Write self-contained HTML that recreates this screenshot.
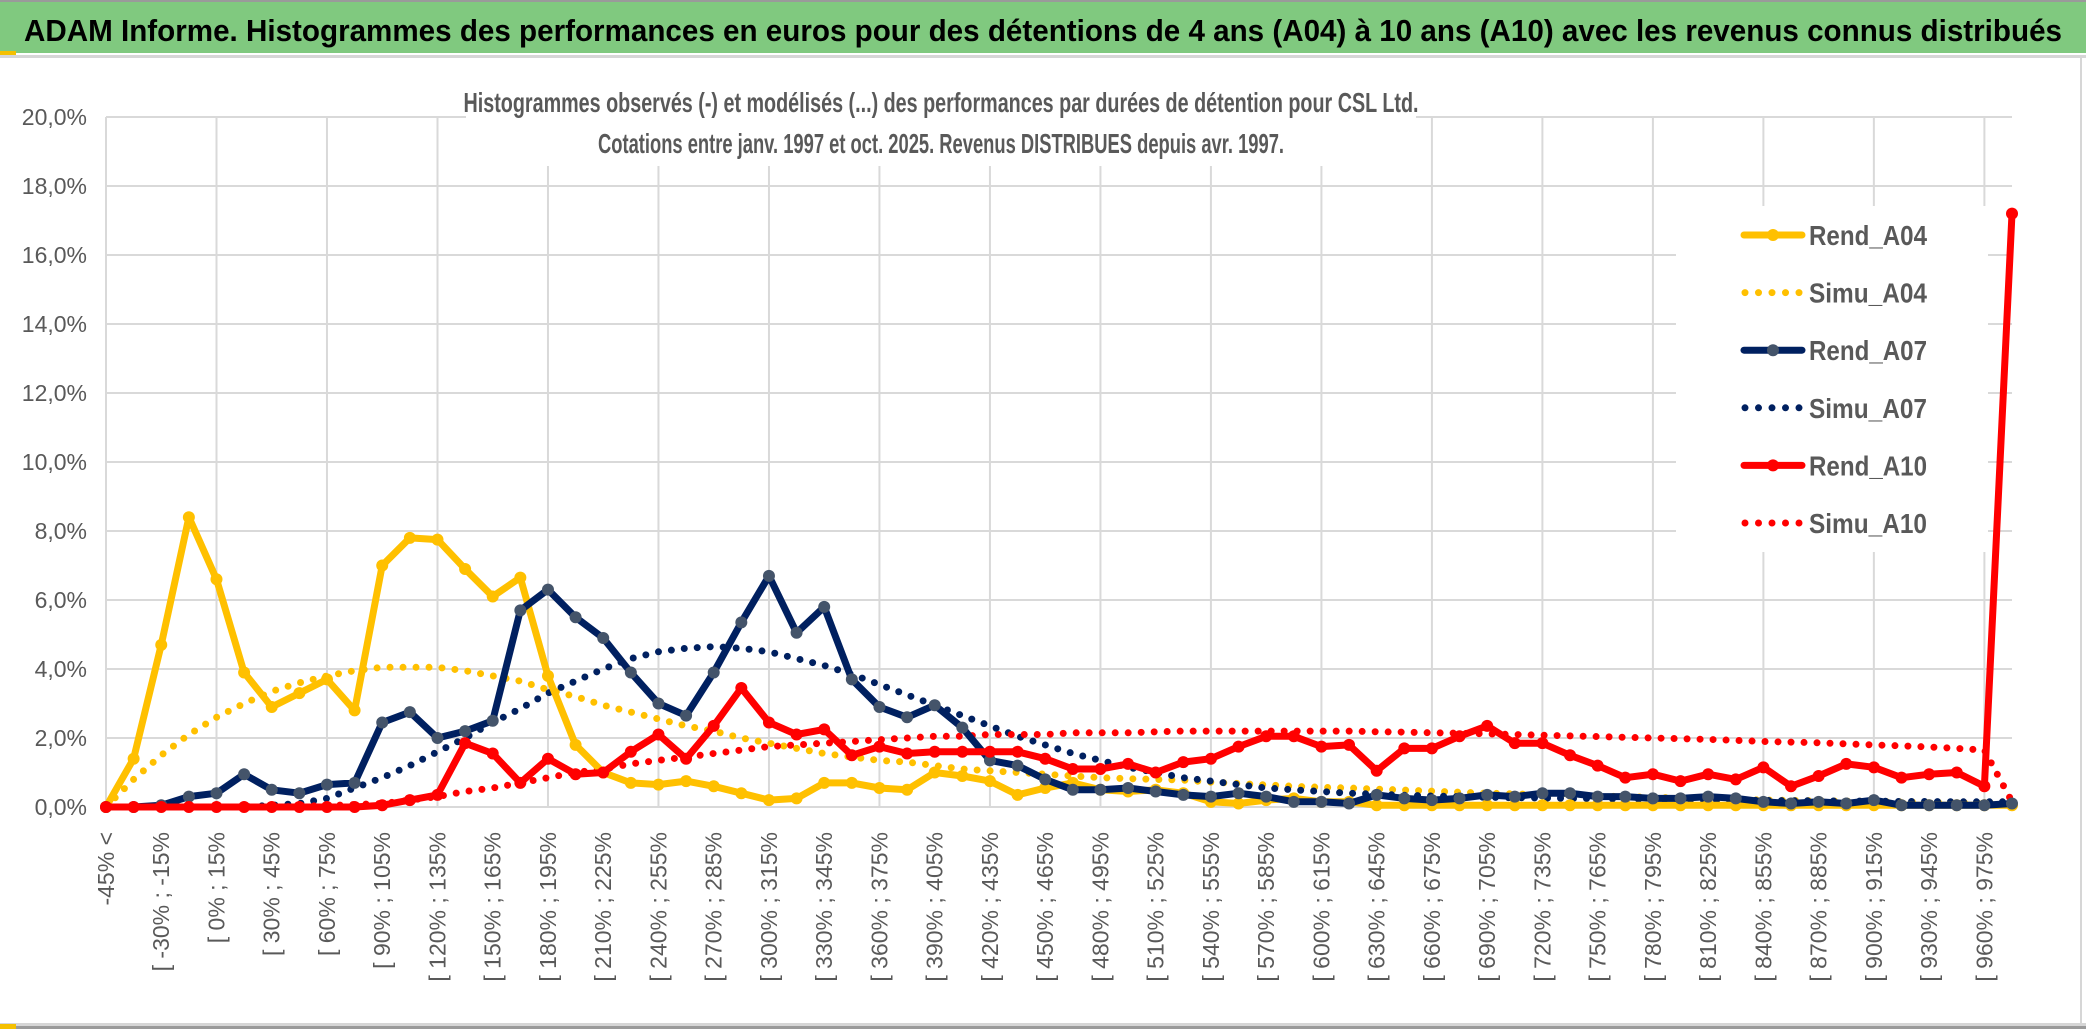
<!DOCTYPE html>
<html><head><meta charset="utf-8"><style>
html,body{margin:0;padding:0;background:#fff;}
svg{display:block;font-family:"Liberation Sans",sans-serif;}
</style></head><body>
<svg id="chart" width="2086" height="1033" viewBox="0 0 2086 1033" xmlns="http://www.w3.org/2000/svg">
<rect x="0" y="0" width="2086" height="1033" fill="#fff"/>
<rect x="0" y="2" width="2086" height="51" fill="#80c97f"/>
<rect x="0" y="0" width="2086" height="2" fill="#9a9a9a"/>
<rect x="0" y="55" width="2086" height="3" fill="#d6d6d6"/>
<rect x="0" y="51" width="16" height="4" fill="#f5c000"/>
<rect x="0" y="1023" width="2086" height="3" fill="#d6d6d6"/>
<rect x="0" y="1026" width="2086" height="3" fill="#9a9a9a"/>
<rect x="0" y="1024" width="16" height="5" fill="#f5c000"/>
<rect x="2080" y="58" width="2" height="965" fill="#d6d6d6"/>
<text x="24" y="41" font-size="31" font-weight="bold" fill="#000" textLength="2038" lengthAdjust="spacingAndGlyphs">ADAM Informe. Histogrammes des performances en euros pour des détentions de 4 ans (A04) à 10 ans (A10) avec les revenus connus distribués</text>
<g id="grid"></g>
<rect x="466" y="70" width="950" height="96" fill="#fff"/>
<rect x="1676" y="206" width="312" height="346" fill="#fff"/>
<text x="941" y="112" font-size="28" font-weight="bold" fill="#595959" text-anchor="middle" textLength="955" lengthAdjust="spacingAndGlyphs">Histogrammes observés (-) et modélisés (...) des performances par durées de détention pour CSL Ltd.</text>
<text x="941" y="153" font-size="28" font-weight="bold" fill="#595959" text-anchor="middle" textLength="686" lengthAdjust="spacingAndGlyphs">Cotations entre janv. 1997 et oct. 2025. Revenus DISTRIBUES depuis avr. 1997.</text>
<g id="ylabels"></g>
<g id="xlabels"></g>
<g id="series"></g>
<g id="legend"></g>
</svg>
<script>
const categories = ["-45% <"];
for (let k = 1; k <= 69; k++) { const a = -45 + 15 * (k - 1); categories.push("[ " + a + "% ; " + (a + 15) + "%"); }
const yTicks = [0,2,4,6,8,10,12,14,16,18,20];
const yTickLabels = ["0,0%","2,0%","4,0%","6,0%","8,0%","10,0%","12,0%","14,0%","16,0%","18,0%","20,0%"];
const rendA04 = [0,1.4,4.7,8.4,6.6,3.9,2.9,3.3,3.7,2.8,7.0,7.8,7.75,6.9,6.1,6.65,3.8,1.8,1.0,0.7,0.65,0.75,0.6,0.4,0.2,0.25,0.7,0.7,0.55,0.5,1.0,0.9,0.75,0.35,0.55,0.7,0.5,0.45,0.5,0.4,0.15,0.1,0.2,0.25,0.15,0.15,0.05,0.05,0.05,0.05,0.05,0.05,0.05,0.05,0.05,0.05,0.05,0.05,0.05,0.05,0.05,0.05,0.05,0.05,0.05,0.05,0.05,0.05,0.05,0.05];
const simuA04 = [0,0.8,1.5,2.1,2.6,3.0,3.35,3.6,3.8,3.95,4.05,4.05,4.05,3.95,3.8,3.65,3.4,3.2,2.95,2.75,2.55,2.35,2.2,2.0,1.85,1.7,1.55,1.45,1.35,1.3,1.2,1.1,1.05,1.0,0.95,0.9,0.85,0.82,0.8,0.78,0.72,0.68,0.64,0.6,0.57,0.55,0.52,0.49,0.46,0.43,0.4,0.38,0.36,0.34,0.32,0.3,0.28,0.26,0.24,0.22,0.2,0.19,0.18,0.17,0.16,0.15,0.14,0.13,0.12,0.1];
const rendA07 = [0,0,0.05,0.3,0.4,0.95,0.5,0.4,0.65,0.7,2.45,2.75,2.0,2.2,2.5,5.7,6.3,5.5,4.9,3.9,3.0,2.65,3.9,5.35,6.7,5.05,5.8,3.7,2.9,2.6,2.95,2.3,1.35,1.2,0.8,0.5,0.5,0.55,0.45,0.35,0.3,0.4,0.3,0.15,0.15,0.1,0.35,0.25,0.2,0.25,0.35,0.3,0.4,0.4,0.3,0.3,0.25,0.25,0.3,0.25,0.15,0.1,0.15,0.1,0.2,0.05,0.05,0.05,0.05,0.1];
const simuA07 = [0,0,0,0,0,0,0.05,0.1,0.25,0.55,0.85,1.2,1.6,2.0,2.45,2.85,3.3,3.65,4.0,4.3,4.5,4.6,4.65,4.6,4.5,4.3,4.1,3.85,3.55,3.25,2.95,2.65,2.35,2.05,1.8,1.55,1.35,1.15,1.0,0.85,0.75,0.65,0.55,0.5,0.45,0.4,0.37,0.34,0.32,0.3,0.28,0.27,0.26,0.25,0.24,0.23,0.22,0.21,0.2,0.2,0.19,0.18,0.18,0.17,0.17,0.16,0.16,0.15,0.15,0.15];
const rendA10 = [0,0,0,0,0,0,0,0,0,0,0.05,0.2,0.35,1.85,1.55,0.7,1.4,0.95,1.0,1.6,2.1,1.4,2.35,3.45,2.45,2.1,2.25,1.5,1.75,1.55,1.6,1.6,1.6,1.6,1.4,1.1,1.1,1.25,1.0,1.3,1.4,1.75,2.05,2.05,1.75,1.8,1.05,1.7,1.7,2.05,2.35,1.85,1.85,1.5,1.2,0.85,0.95,0.75,0.95,0.8,1.15,0.6,0.9,1.25,1.15,0.85,0.95,1.0,0.6,17.2];
const simuA10 = [0,0,0,0,0,0,0,0.02,0.04,0.07,0.1,0.2,0.3,0.45,0.55,0.7,0.85,1.0,1.1,1.25,1.35,1.45,1.55,1.65,1.75,1.8,1.85,1.9,1.95,2.0,2.05,2.05,2.1,2.1,2.1,2.15,2.15,2.15,2.18,2.2,2.2,2.2,2.2,2.2,2.2,2.2,2.18,2.17,2.15,2.14,2.12,2.1,2.08,2.06,2.04,2.02,2.0,1.98,1.96,1.93,1.9,1.88,1.86,1.83,1.8,1.77,1.74,1.7,1.65,0.15];

const NS = "http://www.w3.org/2000/svg";
const X0 = 106, XSTEP = (2012 - 106) / 69, Y0 = 807, YPER = 34.5;
function xAt(i){ return X0 + i * XSTEP; }
function yAt(v){ return Y0 - v * YPER; }
function mk(tag, attrs, parent){ const e = document.createElementNS(NS, tag); for (const k in attrs) e.setAttribute(k, attrs[k]); parent.appendChild(e); return e; }

const grid = document.getElementById("grid");
yTicks.forEach(function(t){
  const l = mk("line", {x1: X0, x2: 2012, y1: yAt(t), y2: yAt(t), stroke: "#d9d9d9", "stroke-width": 2}, grid);
  
  
});
for (let i = 0; i < categories.length; i += 4) {
  const l = mk("line", {x1: xAt(i), x2: xAt(i), y1: yAt(20), y2: Y0, stroke: "#d9d9d9", "stroke-width": 2}, grid);
  
  
}

const yl = document.getElementById("ylabels");
yTicks.forEach(function(t, k){
  const e = mk("text", {x: 87, y: yAt(t) + 8, "font-size": 23, fill: "#595959", "text-anchor": "end"}, yl);
  
  
  e.textContent = yTickLabels[k];
});

const xl = document.getElementById("xlabels");
for (let i = 0; i < categories.length; i += 2) {
  const x = xAt(i) + 8, y = 832;
  const e = mk("text", {x: x, y: y, "font-size": 23, fill: "#595959", "text-anchor": "end", transform: "rotate(-90 " + x + " " + y + ")"}, xl);
  
  
  e.textContent = categories[i];
}

const sg = document.getElementById("series");
function pts(arr){ return arr.map(function(v, i){ return xAt(i).toFixed(1) + "," + yAt(v).toFixed(1); }).join(" "); }
function dotted(arr, color, name){
  const p = mk("polyline", {points: pts(arr), fill: "none", stroke: color, "stroke-width": 7, "stroke-linecap": "round", "stroke-dasharray": "0 13"}, sg);
  
  
}
function solid(arr, color, mcolor, name){
  const p = mk("polyline", {points: pts(arr), fill: "none", stroke: color, "stroke-width": 7, "stroke-linejoin": "round"}, sg);
  
  
  arr.forEach(function(v, i){
    const c = mk("circle", {cx: xAt(i), cy: yAt(v), r: 6, fill: mcolor}, sg);
    
    
  });
}
dotted(simuA04, "#FFC000", "simu-a04-line");
dotted(simuA07, "#002060", "simu-a07-line");
dotted(simuA10, "#FF0000", "simu-a10-line");
solid(rendA04, "#FFC000", "#FFC000", "rend-a04-line");
solid(rendA07, "#002060", "#44546A", "rend-a07-line");
solid(rendA10, "#FF0000", "#FF0000", "rend-a10-line");

const lg = document.getElementById("legend");
const legendNames = ["Rend_A04","Simu_A04","Rend_A07","Simu_A07","Rend_A10","Simu_A10"];
const legendColors = ["#FFC000","#FFC000","#002060","#002060","#FF0000","#FF0000"];
const legendMarkers = ["#FFC000",null,"#44546A",null,"#FF0000",null];
legendNames.forEach(function(n, k){
  const cy = 235 + k * 57.6;
  const g = mk("g", {}, lg);
  
  
  if (legendMarkers[k]) {
    mk("line", {x1: 1744, x2: 1802, y1: cy, y2: cy, stroke: legendColors[k], "stroke-width": 7, "stroke-linecap": "round"}, g);
    mk("circle", {cx: 1773, cy: cy, r: 6, fill: legendMarkers[k]}, g);
  } else {
    mk("line", {x1: 1745, x2: 1800, y1: cy, y2: cy, stroke: legendColors[k], "stroke-width": 7, "stroke-linecap": "round", "stroke-dasharray": "0 13.5"}, g);
  }
  const t = mk("text", {x: 1809, y: cy + 10, "font-size": 28, "font-weight": "bold", fill: "#595959", textLength: 118, lengthAdjust: "spacingAndGlyphs"}, g);
  t.textContent = n;
});
</script>
</body></html>
